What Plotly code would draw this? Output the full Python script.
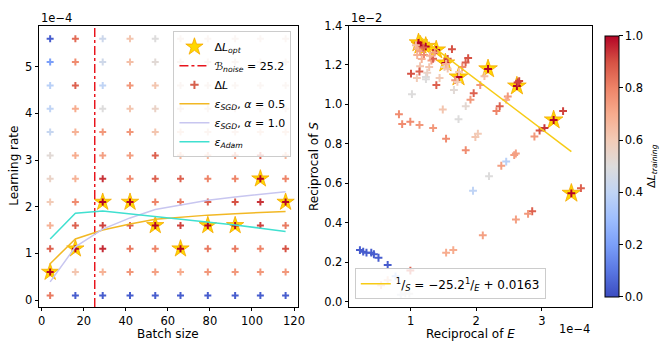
import plotly.graph_objects as go
from plotly.colors import sample_colorscale

# ---------------- data: left panel (grid search) ----------------
batch_sizes = [4, 16, 29, 42, 54, 66, 79, 92, 104, 116]
lr_values = [0.1, 0.6, 1.1, 1.6, 2.1, 2.6, 3.1, 3.6, 4.1, 4.6, 5.1, 5.6]  # x 1e-4
# normalised training-loss drop for each (lr row, batch column)
dl_grid = [
    [0.82, 0.04, 0.04, 0.04, 0.04, 0.04, 0.04, 0.04, 0.04, 0.04],
    [1.00, 0.62, 0.68, 0.75, 0.73, 0.70, 0.75, 0.75, 0.75, 0.75],
    [0.87, 1.00, 0.95, 0.82, 0.80, 1.00, 0.82, 0.82, 0.80, 0.90],
    [0.68, 0.87, 0.92, 0.87, 1.00, 0.92, 1.00, 1.00, 0.92, 0.82],
    [0.60, 0.78, 1.00, 1.00, 0.80, 0.82, 0.87, 0.90, 0.94, 1.00],
    [0.56, 0.68, 0.94, 0.78, 0.87, 0.87, 0.80, 0.80, 1.00, 0.80],
    [0.52, 0.70, 0.73, 0.73, 0.87, 0.66, 0.66, 0.78, 0.87, 0.66],
    [0.42, 0.68, 0.75, 0.75, 0.62, 0.60, 0.58, 0.58, 0.60, 0.60],
    [0.40, 0.70, 0.50, 0.62, 0.56, 0.56, 0.56, 0.56, 0.56, 0.56],
    [0.38, 0.87, 0.40, 0.75, 0.62, 0.56, 0.56, 0.56, 0.56, 0.56],
    [0.20, 0.78, 0.45, 0.64, 0.52, 0.56, 0.56, 0.56, 0.56, 0.56],
    [0.04, 0.85, 0.44, 0.62, 0.50, 0.56, 0.56, 0.56, 0.56, 0.56],
]
opt_lr = [0.6, 1.1, 2.1, 2.1, 1.6, 1.1, 1.6, 1.6, 2.6, 2.1]
B_noise = 25.2
eps_sgd_05 = [0.78, 1.31, 1.50, 1.63, 1.73, 1.78, 1.82, 1.85, 1.88, 1.90]
eps_sgd_10 = [0.39, 1.14, 1.52, 1.76, 1.94, 2.04, 2.14, 2.21, 2.26, 2.32]
eps_adam = [1.31, 1.86, 1.91, 1.85, 1.78, 1.73, 1.67, 1.61, 1.54, 1.47]

# ---------------- data: right panel ----------------
# reciprocal of E (x 1e-4), reciprocal of S (x 1e-2), colour value
inv_E = [1.12, 1.15, 1.23, 1.39, 1.53, 1.73, 2.18, 2.62, 3.18, 3.45,
         1.08, 1.105, 1.10, 1.144, 1.194, 1.204, 1.169, 1.144, 1.134, 1.006,
         1.095, 1.233, 1.253, 1.283, 1.317, 1.342, 1.367, 1.293, 1.233, 1.441,
         1.392, 1.565, 1.63, 1.516, 1.54, 1.565, 1.788, 1.838, 1.877, 1.679,
         1.713, 1.738, 1.66, 1.02, 1.84, 1.912, 1.961, 2.061, 2.125, 2.63,
         2.655, 2.481, 2.457, 2.358, 2.308, 0.822, 0.871, 0.995, 1.135, 1.343,
         1.49, 1.54, 1.73, 1.84, 1.987, 2.025, 2.195, 2.382, 2.457, 2.579,
         2.604, 2.887, 2.966, 3.04, 3.324, 3.596, 1.951, 2.853, 2.79, 2.605,
         2.10, 1.541, 1.65, 0.996, 0.227, 0.277, 0.327, 0.40, 0.44, 0.51,
         0.65, 0.77, 0.65, 0.55, 0.92, 0.98, 0.85]
inv_S = [1.312, 1.300, 1.294, 1.276, 1.210, 1.139, 1.180, 1.093, 0.921, 0.549,
         1.300, 1.283, 1.250, 1.271, 1.288, 1.250, 1.230, 1.194, 1.167, 1.156,
         1.134, 1.139, 1.161, 1.189, 1.222, 1.231, 1.263, 1.247, 1.128, 1.134,
         1.098, 1.231, 1.280, 1.189, 1.205, 1.181, 1.189, 1.213, 1.235, 1.123,
         1.114, 1.164, 1.073, 1.052, 0.991, 1.024, 1.057, 1.098, 1.143, 1.111,
         1.118, 1.040, 1.024, 0.991, 0.966, 0.950, 0.900, 0.912, 0.896, 0.880,
         0.974, 0.826, 0.925, 0.768, 0.834, 0.851, 0.636, 0.689, 0.710, 0.743,
         0.751, 0.837, 0.867, 0.880, 0.966, 0.575, 0.562, 0.458, 0.445, 0.416,
         0.336, 0.248, 0.261, 0.157, 0.261, 0.253, 0.248, 0.248, 0.240, 0.222,
         0.186, 0.128, 0.108, 0.083, 0.042, 0.040, 0.035]
dl_scatter = [1.00, 1.00, 1.00, 1.00, 1.00, 1.00, 1.00, 1.00, 1.00, 1.00,
              0.64, 0.68, 0.68, 0.73, 0.87, 0.78, 0.68, 0.62, 0.87, 0.90,
              0.60, 0.50, 0.56, 0.62, 0.73, 0.87, 0.73, 0.68, 0.50, 0.60,
              0.87, 0.90, 0.90, 0.56, 0.68, 0.62, 0.78, 0.87, 0.90, 0.75,
              0.60, 0.62, 0.52, 0.50, 0.53, 0.75, 0.87, 0.75, 0.64, 0.92,
              0.92, 0.75, 0.70, 0.87, 0.80, 0.78, 0.78, 0.78, 0.75, 0.75,
              0.62, 0.78, 0.50, 0.78, 0.62, 0.60, 0.50, 0.73, 0.38, 0.73,
              0.73, 0.75, 0.90, 0.94, 0.92, 0.87, 0.40, 0.87, 0.75, 0.73,
              0.73, 0.70, 0.70, 0.87, 0.04, 0.04, 0.04, 0.04, 0.04, 0.04,
              0.04, 0.32, 0.62, 0.68, 0.50, 0.50, 0.47]
opt_inv_E = [1.12, 1.15, 1.23, 1.39, 1.53, 1.73, 2.18, 2.62, 3.18, 3.45]
opt_inv_S = [1.312, 1.300, 1.294, 1.276, 1.210, 1.139, 1.180, 1.093, 0.921, 0.549]
fit_slope = -25.2
fit_intercept = 0.0163

# ---------------- styling ----------------
FONT = "DejaVu Sans"
coolwarm = [
    [0.0, "#3b4cc0"], [0.1, "#5977e3"], [0.2, "#7b9ff9"], [0.3, "#9ebeff"],
    [0.4, "#c0d4f5"], [0.5, "#dddcdc"], [0.6, "#f2cbb7"], [0.7, "#f7ac8e"],
    [0.8, "#ee8468"], [0.9, "#d65244"], [1.0, "#b40426"],
]
W, H = 670, 354
LX0, LX1 = 39 / W, 304.3 / W
RX0, RX1 = 357.3 / W, 606 / W
Y0, Y1 = 1 - 307.7 / H, 1 - 19 / H
LEFT_X_RANGE = [-1.3, 121.7]
LEFT_Y_RANGE = [-0.146, 5.883]
RIGHT_X_RANGE = [0.064, 3.759]
RIGHT_Y_RANGE = [-0.027, 1.4]

STAR_FILL = "#FFD700"
STAR_EDGE = "#F5A800"
STAR_SIZE = 13
PLUS_L = 5.0
PLUS_R = 5.6
PLUS_W = 2.0

fig = go.Figure()

# --- left panel ---
fig.add_trace(go.Scatter(
    x=batch_sizes, y=opt_lr, mode="markers", xaxis="x", yaxis="y",
    marker=dict(symbol="star", size=STAR_SIZE, color=STAR_FILL,
                line=dict(color=STAR_EDGE, width=0.8)),
    name="Δ<i>L</i><sub><i>opt</i></sub>", legend="legend"))

fig.add_trace(go.Scatter(
    x=[B_noise, B_noise], y=LEFT_Y_RANGE, mode="lines", xaxis="x", yaxis="y",
    line=dict(color="#e8141c", width=1.5, dash="dashdot"),
    name="<i>ℬ</i><sub><i>noise</i></sub> = 25.2", legend="legend"))

gx, gy, gc = [], [], []
for i, lr in enumerate(lr_values):
    for j, b in enumerate(batch_sizes):
        gx.append(b)
        gy.append(lr)
        gc.append(dl_grid[i][j])
gcol = sample_colorscale(coolwarm, gc)

fig.add_trace(go.Scatter(
    x=[None], y=[None], mode="markers", xaxis="x", yaxis="y",
    marker=dict(symbol="cross-thin", size=6, color="#d6604d",
                line=dict(width=PLUS_W, color="#d6604d")),
    name="Δ<i>L</i>", legend="legend"))

fig.add_trace(go.Scatter(
    x=gx, y=gy, mode="markers", xaxis="x", yaxis="y", showlegend=False,
    marker=dict(symbol="cross-thin", size=PLUS_L, color=gc, coloraxis="coloraxis",
                line=dict(width=PLUS_W, color=gcol))))

fig.add_trace(go.Scatter(
    x=batch_sizes, y=eps_sgd_05, mode="lines", xaxis="x", yaxis="y",
    line=dict(color="#F2B824", width=1.5),
    name="<i>ε</i><sub><i>SGD</i></sub>, <i>α</i> = 0.5", legend="legend"))
fig.add_trace(go.Scatter(
    x=batch_sizes, y=eps_sgd_10, mode="lines", xaxis="x", yaxis="y",
    line=dict(color="#C8C6F0", width=1.5),
    name="<i>ε</i><sub><i>SGD</i></sub>, <i>α</i> = 1.0", legend="legend"))
fig.add_trace(go.Scatter(
    x=batch_sizes, y=eps_adam, mode="lines", xaxis="x", yaxis="y",
    line=dict(color="#40E0D0", width=1.5),
    name="<i>ε</i><sub><i>Adam</i></sub>", legend="legend"))

# --- right panel ---
fig.add_trace(go.Scatter(
    x=opt_inv_E, y=opt_inv_S, mode="markers", xaxis="x2", yaxis="y2",
    showlegend=False,
    marker=dict(symbol="star", size=STAR_SIZE + 1, color=STAR_FILL,
                line=dict(color=STAR_EDGE, width=0.8))))

scol = sample_colorscale(coolwarm, dl_scatter)
fig.add_trace(go.Scatter(
    x=inv_E, y=inv_S, mode="markers", xaxis="x2", yaxis="y2", showlegend=False,
    marker=dict(symbol="cross-thin", size=PLUS_R, color=dl_scatter,
                coloraxis="coloraxis", line=dict(width=PLUS_W, color=scol))))

fit_x = [min(opt_inv_E), max(opt_inv_E)]
fit_y = [(fit_slope * xv * 1e-4 + fit_intercept) / 1e-2 for xv in fit_x]
fig.add_trace(go.Scatter(
    x=fit_x, y=fit_y, mode="lines", xaxis="x2", yaxis="y2",
    line=dict(color="#F7CB15", width=1.5),
    name="<sup>1</sup>/<sub><i>S</i></sub> = −25.2<sup>1</sup>/<sub><i>E</i></sub> + 0.0163",
    legend="legend2"))

axis_common = dict(
    showline=True, linecolor="black", linewidth=1, mirror=True,
    ticks="outside", ticklen=3.5, tickwidth=1, tickcolor="black",
    showgrid=False, zeroline=False,
    tickfont=dict(family=FONT, size=11.5, color="black"),
)

YMID = 1 - ((19 + 307.7) / 2) / H
TITLE_FONT = dict(family=FONT, size=12, color="black")
EXP_FONT = dict(family=FONT, size=11.5, color="black")

fig.update_layout(
    width=W, height=H,
    margin=dict(l=0, r=0, t=0, b=0),
    paper_bgcolor="white", plot_bgcolor="white",
    font=dict(family=FONT, size=12, color="black"),
    xaxis=dict(domain=[LX0, LX1], anchor="y", range=LEFT_X_RANGE,
               tickvals=[0, 20, 40, 60, 80, 100, 120], **axis_common),
    yaxis=dict(domain=[Y0, Y1], anchor="x", range=LEFT_Y_RANGE,
               tickvals=[0, 1, 2, 3, 4, 5], **axis_common),
    xaxis2=dict(domain=[RX0, RX1], anchor="y2", range=RIGHT_X_RANGE,
                tickvals=[1, 2, 3], **axis_common),
    yaxis2=dict(domain=[Y0, Y1], anchor="x2", range=RIGHT_Y_RANGE,
                tickvals=[0, 0.2, 0.4, 0.6, 0.8, 1.0, 1.2, 1.4],
                tickformat=".1f", **axis_common),
    coloraxis=dict(
        cmin=0, cmax=1, colorscale=coolwarm,
        colorbar=dict(
            x=609.3 / W, xanchor="left", xref="paper",
            y=(Y0 + Y1) / 2, yanchor="middle", len=Y1 - Y0, lenmode="fraction",
            thickness=13.5, thicknessmode="pixels",
            outlinewidth=1, outlinecolor="black",
            ticks="outside", ticklen=3.5, tickcolor="black",
            tickvals=[0, 0.2, 0.4, 0.6, 0.8, 1.0], tickformat=".1f",
            tickfont=dict(family=FONT, size=11.5, color="black"),
            title=dict(text="Δ<i>L</i><sub><i>training</i></sub>", side="right",
                       font=dict(family=FONT, size=11)),
        ),
    ),
    legend=dict(
        x=298 / W, xanchor="right", y=1 - 25 / H, yanchor="top",
        bgcolor="rgba(255,255,255,0.8)", bordercolor="#cccccc", borderwidth=1,
        font=dict(family=FONT, size=11, color="black"),
        tracegroupgap=0, itemwidth=30,
    ),
    legend2=dict(
        x=363 / W, xanchor="left", y=1 - 300 / H, yanchor="bottom",
        bgcolor="rgba(255,255,255,0.8)", bordercolor="#cccccc", borderwidth=1,
        font=dict(family=FONT, size=12, color="black"),
        itemwidth=30,
    ),
    annotations=[
        dict(text="Batch size", x=(LX0 + LX1) / 2, y=1 - 336 / H,
             xref="paper", yref="paper", xanchor="center", yanchor="middle",
             showarrow=False, font=TITLE_FONT),
        dict(text="Reciprocal of <i>E</i>", x=(RX0 + RX1) / 2, y=1 - 336 / H,
             xref="paper", yref="paper", xanchor="center", yanchor="middle",
             showarrow=False, font=TITLE_FONT),
        dict(text="Learning rate", x=14 / W, y=YMID, textangle=-90,
             xref="paper", yref="paper", xanchor="center", yanchor="middle",
             showarrow=False, font=TITLE_FONT),
        dict(text="Reciprocal of <i>S</i>", x=321 / W, y=YMID, textangle=-90,
             xref="paper", yref="paper", xanchor="center", yanchor="middle",
             showarrow=False, font=TITLE_FONT),
        dict(text="1e−4", x=LX0, y=1 - 11 / H, xref="paper", yref="paper",
             xanchor="left", yanchor="middle", showarrow=False, font=EXP_FONT),
        dict(text="1e−2", x=RX0, y=1 - 11 / H, xref="paper", yref="paper",
             xanchor="left", yanchor="middle", showarrow=False, font=EXP_FONT),
        dict(text="1e−4", x=RX1, y=1 - 330 / H, xref="paper", yref="paper",
             xanchor="right", yanchor="middle", showarrow=False, font=EXP_FONT),
    ],
)

fig.write_html("out.html")
